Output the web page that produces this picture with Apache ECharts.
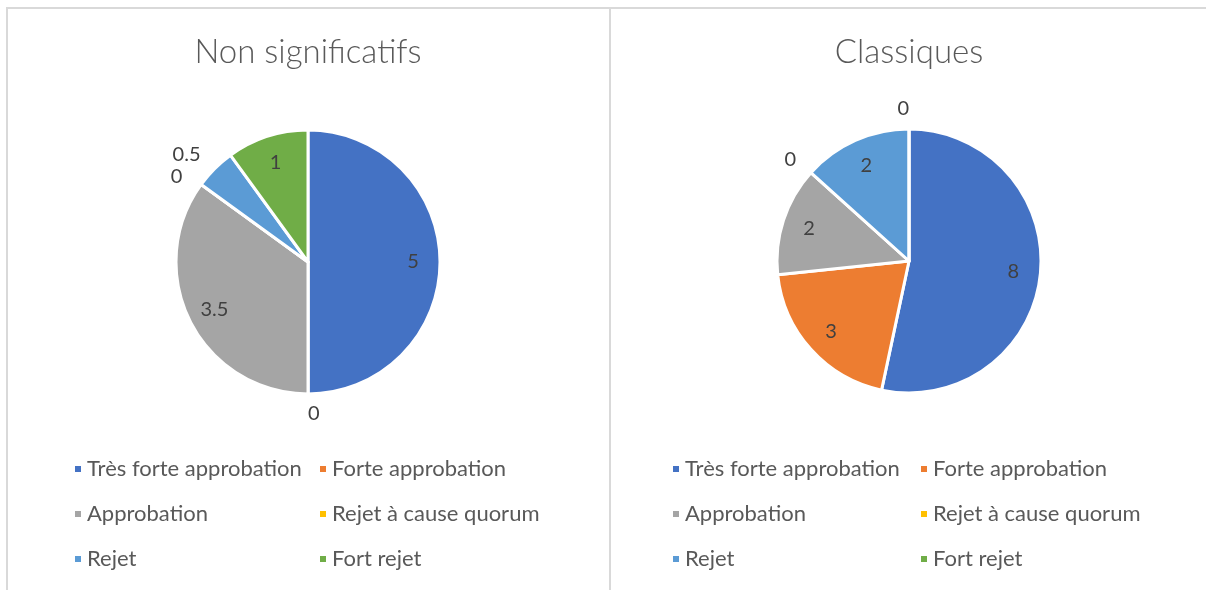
<!DOCTYPE html>
<html lang="fr">
<head>
    <meta charset="UTF-8">
    <title>Non significatifs / Classiques</title>
    <script src="https://cdn.jsdelivr.net/npm/echarts@6/dist/echarts.min.js"></script>
    <style>
        html, body {
            margin: 0;
            padding: 0;
            width: 1206px;
            height: 590px;
            overflow: hidden;
            background: #fff;
        }
        .panel {
            position: absolute;
            top: 7px;
            height: 620px;
            border: 2px solid #d9d9d9;
        }
        #left {
            left: 6px;
            width: 601px;
        }
        #right {
            left: 609px;
            width: 620px;
        }
    </style>
</head>
<body>
    <div class="panel" id="left"></div>
    <div class="panel" id="right"></div>
    <script>
        // données
        const categories = ['Très forte approbation', 'Forte approbation', 'Approbation', 'Rejet à cause quorum', 'Rejet', 'Fort rejet']
        const nonSignificatifs = [5, 0, 3.5, 0, 0.5, 1]
        const classiques = [8, 3, 2, 0, 2, 0]

        const colors = ['#4472C4', '#ED7D31', '#A5A5A5', '#FFC000', '#5B9BD5', '#70AD47']
        const font = 'Lato, "Open Sans", sans-serif'

        function makeOption(title, values, cx, cy, leg1, leg2) {
            const total = values.reduce((a, b) => a + b, 0)
            // petites parts : étiquette à l'extérieur (comme Excel)
            const isSmall = v => v / total < 0.06
            const mainData = values.map((v, i) => ({
                name: categories[i], value: v,
                label: { show: isSmall(v) }
            }))
            const labelData = values.map((v, i) => ({
                name: categories[i], value: v,
                label: { show: !isSmall(v) }
            }))
            const legendBase = {
                orient: 'vertical',
                top: 449,
                padding: 0,
                itemGap: 23,
                itemWidth: 8,
                itemHeight: 8,
                icon: 'rect',
                textStyle: { fontFamily: font, fontSize: 22, color: '#595959', lineHeight: 22 }
            }
            return {
                color: colors,
                animation: false,
                title: {
                    text: title,
                    left: cx,
                    textAlign: 'center',
                    top: 27,
                    padding: 0,
                    textStyle: { fontFamily: font, fontSize: 33, fontWeight: 300, color: '#595959' }
                },
                legend: [
                    Object.assign({ left: leg1, data: [categories[0], categories[2], categories[4]] }, legendBase),
                    Object.assign({ left: leg2, data: [categories[1], categories[3], categories[5]] }, legendBase)
                ],
                series: [{
                    type: 'pie',
                    center: [cx, cy],
                    radius: 132,
                    startAngle: 90,
                    clockwise: true,
                    itemStyle: { borderColor: '#fff', borderWidth: 3 },
                    label: {
                        position: 'outside',
                        fontFamily: font,
                        fontSize: 20,
                        color: '#404040',
                        distanceToLabelLine: 0,
                        formatter: '{c}'
                    },
                    labelLine: { show: false, length: 20, length2: 0 },
                    data: mainData
                }, {
                    // série transparente qui sert seulement à placer les étiquettes intérieures
                    type: 'pie',
                    center: [cx, cy],
                    radius: 204,
                    startAngle: 90,
                    clockwise: true,
                    silent: true,
                    itemStyle: { color: 'rgba(0,0,0,0)', borderWidth: 0 },
                    emphasis: { disabled: true },
                    label: {
                        position: 'inside',
                        fontFamily: font,
                        fontSize: 20,
                        color: '#404040',
                        formatter: '{c}'
                    },
                    labelLine: { show: false },
                    data: labelData
                }]
            }
        }

        const leftChart = echarts.init(document.getElementById('left'))
        leftChart.setOption(makeOption('Non significatifs', nonSignificatifs, 300, 253, 65, 310))

        const rightChart = echarts.init(document.getElementById('right'))
        rightChart.setOption(makeOption('Classiques', classiques, 298, 252, 60, 308))
    </script>
</body>
</html>
